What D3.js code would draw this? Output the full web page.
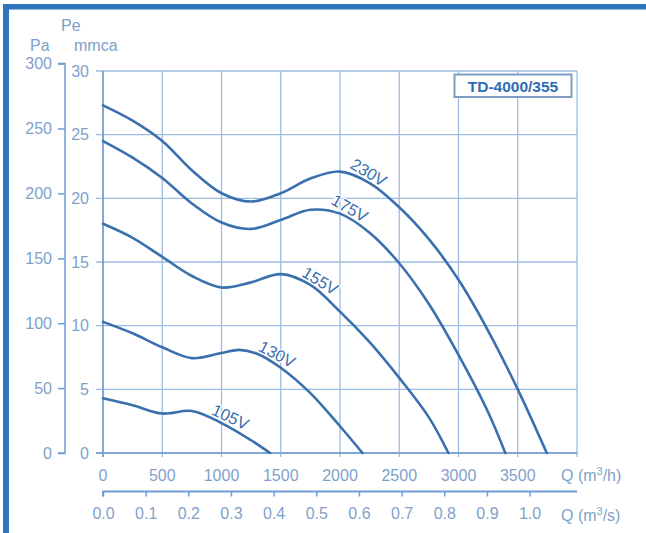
<!DOCTYPE html>
<html>
<head>
<meta charset="utf-8">
<script src="https://cdn.jsdelivr.net/npm/d3@7/dist/d3.min.js"></script>
<style>
  html, body { margin: 0; padding: 0; background: #ffffff; }
  svg { display: block; font-family: "Liberation Sans", Arial, Helvetica, sans-serif; }
</style>
</head>
<body>
<svg id="chart" width="646" height="533"></svg>
<script>
// Fan curve data: static pressure Pe (mmca) against air flow Q (m³/h)
const flow230 = [0, 250, 500, 750, 1000, 1250, 1500, 1750, 2000, 2250, 2500, 2750, 3000, 3250, 3500, 3745];
const pe230   = [27.3, 26.1, 24.5, 22.2, 20.4, 19.75, 20.4, 21.55, 22.1, 21.2, 19.3, 16.8, 13.6, 9.6, 5.0, 0];

const flow175 = [0, 250, 500, 750, 1000, 1250, 1500, 1750, 2000, 2250, 2500, 2750, 3000, 3250, 3395];
const pe175   = [24.5, 23.2, 21.6, 19.6, 18.1, 17.6, 18.3, 19.1, 18.8, 17.3, 14.9, 11.7, 7.7, 3.2, 0];

const flow155 = [0, 250, 500, 750, 1000, 1250, 1500, 1750, 2000, 2250, 2500, 2750, 2915];
const pe155   = [18.0, 16.9, 15.4, 13.9, 13.0, 13.4, 14.05, 13.2, 11.1, 8.7, 5.9, 2.8, 0];

const flow130 = [0, 250, 500, 750, 1000, 1150, 1300, 1500, 1750, 2000, 2190];
const pe130   = [10.3, 9.4, 8.3, 7.45, 7.85, 8.1, 7.8, 6.7, 4.7, 2.1, 0];

const flow105 = [0, 250, 500, 750, 1000, 1250, 1410];
const pe105   = [4.3, 3.75, 3.1, 3.3, 2.35, 1.0, 0];

const curveLabels = ["230V", "175V", "155V", "130V", "105V"];

// Axis ticks
const flowTicksH = [0, 500, 1000, 1500, 2000, 2500, 3000, 3500];            // m³/h
const flowTicksS = [0.0, 0.1, 0.2, 0.3, 0.4, 0.5, 0.6, 0.7, 0.8, 0.9, 1.0]; // m³/s
const mmcaTicks  = [0, 5, 10, 15, 20, 25, 30];
const paTicks    = [0, 50, 100, 150, 200, 250, 300];
const modelName  = "TD-4000/355";

const series = curveLabels.map((label, i) => {
  const q = [flow230, flow175, flow155, flow130, flow105][i];
  const p = [pe230, pe175, pe155, pe130, pe105][i];
  return { label, points: q.map((v, j) => [v, p[j]]) };
});

// Colours
const gridColor  = "#9dbbe0";
const axisColor  = "#6f9bd2";
const textColor  = "#7f9fcb";
const curveColor = "#3b70ae";
const frameColor = "#2f73b8";

const svg = d3.select("#chart");

// Frame bands along the top and left side
svg.append("rect").attr("x", 3).attr("y", 4).attr("width", 643).attr("height", 5.5).attr("fill", frameColor);
svg.append("rect").attr("x", 3).attr("y", 4).attr("width", 6).attr("height", 529).attr("fill", frameColor);

// Scales
const x = d3.scaleLinear().domain([0, 4000]).range([103, 577]);
const y = d3.scaleLinear().domain([0, 30]).range([453, 71]);
// 1 mmca = 9.81 Pa
const yPa = d3.scaleLinear().domain([0, 300]).range([y(0), y(300 / 9.81)]);
const xS = d3.scaleLinear().domain([0, 4000 / 3600]).range([x(0), x(4000)]);

const fontSize = 16;

// Grid: horizontal lines (extending left as ticks)
const grid = svg.append("g").attr("stroke", gridColor).attr("stroke-width", 1.3).attr("fill", "none");
grid.selectAll("line.h").data(mmcaTicks).join("line")
  .attr("x1", x(0) - 7).attr("x2", x(4000))
  .attr("y1", d => y(d)).attr("y2", d => y(d));
// vertical lines every 500 m³/h (extending slightly below as ticks)
grid.selectAll("line.v").data(d3.range(0, 4001, 500)).join("line")
  .attr("x1", d => x(d)).attr("x2", d => x(d))
  .attr("y1", y(30)).attr("y2", y(0) + 4);

// Left and bottom plot edges slightly stronger
svg.append("line").attr("x1", x(0)).attr("x2", x(0)).attr("y1", y(30)).attr("y2", y(0) + 4)
  .attr("stroke", axisColor).attr("stroke-width", 1.5);
svg.append("line").attr("x1", x(0) - 7).attr("x2", x(4000)).attr("y1", y(0)).attr("y2", y(0))
  .attr("stroke", axisColor).attr("stroke-width", 1.5);

// mmca tick labels
svg.append("g").selectAll("text").data(mmcaTicks).join("text")
  .attr("x", 89).attr("y", d => y(d)).attr("dy", "0.35em")
  .attr("text-anchor", "end").attr("font-size", fontSize).attr("fill", textColor)
  .text(d => d);

// Pa axis
const paAxis = d3.axisLeft(yPa).tickValues(paTicks).tickSize(7).tickPadding(6);
const gPa = svg.append("g").attr("transform", "translate(65,0)").call(paAxis);
gPa.select(".domain").attr("stroke", axisColor).attr("stroke-width", 1.5)
  .attr("d", `M-7,${yPa(300)}H0V${yPa(0)}H-7`);
gPa.selectAll(".tick line").attr("stroke", axisColor).attr("stroke-width", 1.5);
gPa.selectAll(".tick text").attr("fill", textColor).attr("font-size", fontSize)
  .attr("font-family", "Liberation Sans, Arial, sans-serif");

// Bottom m³/h labels
svg.append("g").selectAll("text").data(flowTicksH).join("text")
  .attr("x", d => x(d)).attr("y", 481)
  .attr("text-anchor", "middle").attr("font-size", fontSize).attr("fill", textColor)
  .text(d => d);

// Second axis in m³/s
const sAxis = d3.axisBottom(xS).tickValues(flowTicksS).tickSize(5).tickPadding(11)
  .tickFormat(d3.format(".1f"));
const gS = svg.append("g").attr("transform", "translate(0,491.5)").call(sAxis);
gS.select(".domain").attr("stroke", axisColor).attr("stroke-width", 1.8)
  .attr("d", `M${x(0)},5V0H${x(4000)}`);
gS.selectAll(".tick line").attr("stroke", axisColor).attr("stroke-width", 1.5);
gS.selectAll(".tick text").attr("fill", textColor).attr("font-size", fontSize)
  .attr("font-family", "Liberation Sans, Arial, sans-serif");

// Unit captions
const captions = svg.append("g").attr("font-size", fontSize).attr("fill", textColor);
const qh = captions.append("text").attr("x", 561).attr("y", 481);
qh.append("tspan").text("Q (m");
qh.append("tspan").attr("font-size", 11).attr("dy", -6).text("3");
qh.append("tspan").attr("dy", 6).text("/h)");
const qs = captions.append("text").attr("x", 561).attr("y", 521);
qs.append("tspan").text("Q (m");
qs.append("tspan").attr("font-size", 11).attr("dy", -6).text("3");
qs.append("tspan").attr("dy", 6).text("/s)");
captions.append("text").attr("x", 61).attr("y", 31).text("Pe");
captions.append("text").attr("x", 30).attr("y", 51).text("Pa");
captions.append("text").attr("x", 74).attr("y", 51).text("mmca");

// Model name box
const box = svg.append("g");
box.append("rect").attr("x", 454.5).attr("y", 74.5).attr("width", 117).attr("height", 22.5)
  .attr("fill", "#ffffff").attr("stroke", "#7e9cc4").attr("stroke-width", 2);
box.append("text").attr("x", 513).attr("y", 91.5).attr("text-anchor", "middle")
  .attr("font-size", 15.5).attr("font-weight", "bold").attr("fill", "#2f6db3")
  .text(modelName);

// Curves
const line = d3.line().x(d => x(d[0])).y(d => y(d[1])).curve(d3.curveCatmullRom.alpha(0.5));
svg.append("g").selectAll("path").data(series).join("path")
  .attr("d", d => line(d.points))
  .attr("fill", "none").attr("stroke", curveColor).attr("stroke-width", 2.6)
  .attr("stroke-linecap", "round");

// Curve labels: placed just above each curve, following its slope
const labelPlacement = { "230V": [2200, 31], "175V": [2040, 30], "155V": [1790, 31], "130V": [1430, 28], "105V": [1040, 25] };
series.forEach(s => {
  const [q, angle] = labelPlacement[s.label];
  const qs = s.points.map(p => p[0]);
  const ps = s.points.map(p => p[1]);
  const pe = d3.scaleLinear().domain(qs).range(ps)(q);
  svg.append("text")
    .attr("transform", `translate(${x(q)},${y(pe)}) rotate(${angle})`)
    .attr("dy", -4)
    .attr("text-anchor", "middle").attr("font-size", 16.5).attr("fill", curveColor)
    .attr("stroke", "#ffffff").attr("stroke-width", 2.5).attr("paint-order", "stroke")
    .text(s.label);
});
</script>
</body>
</html>
